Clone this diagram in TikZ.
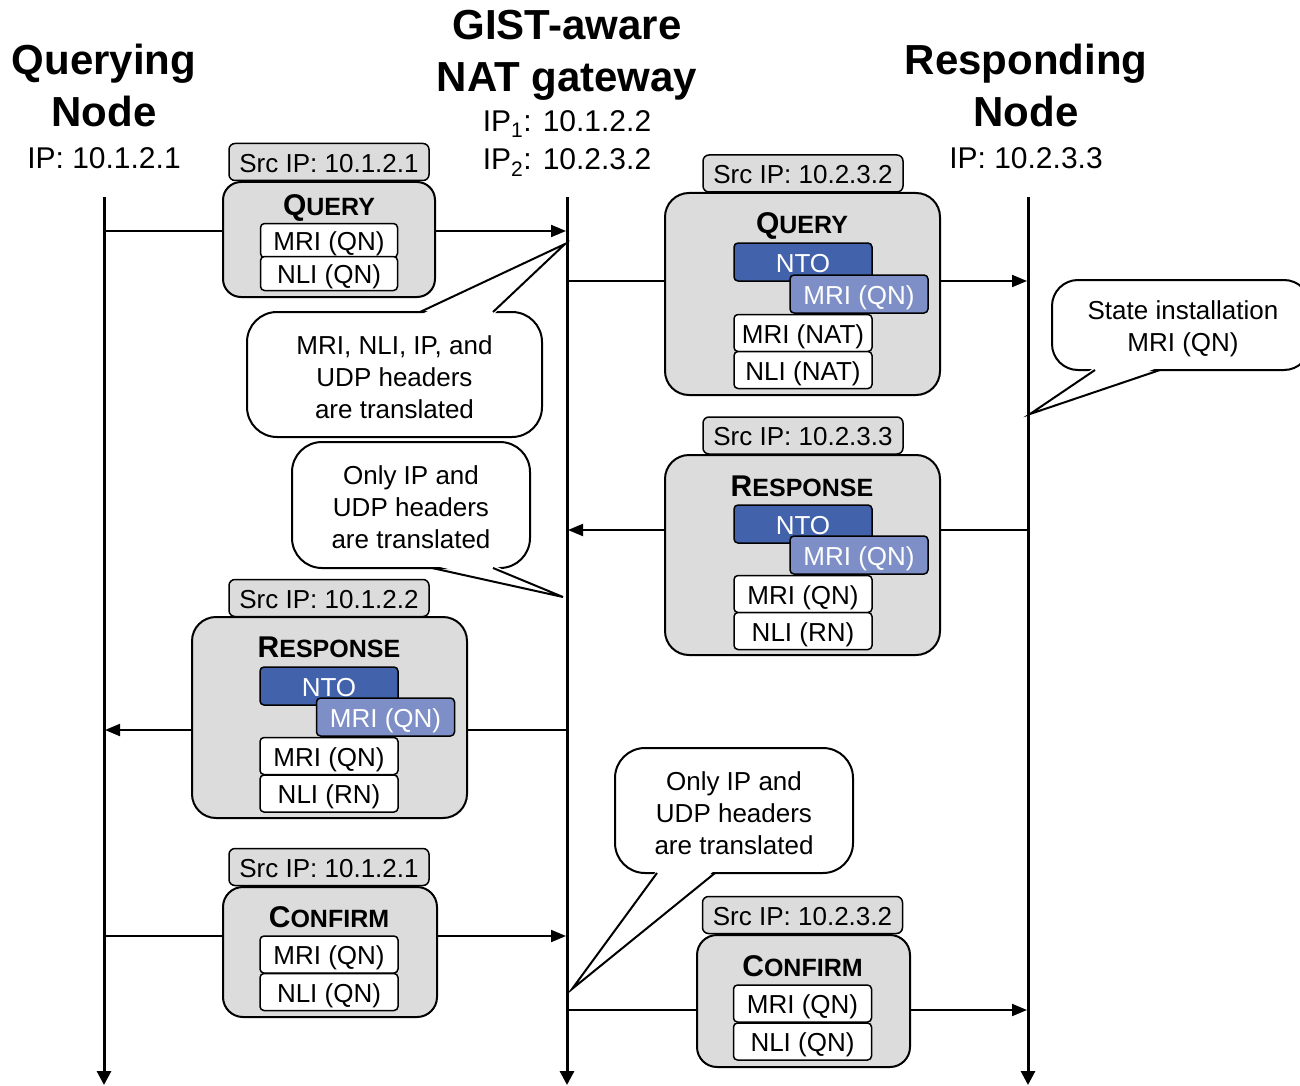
\documentclass[tikz,border=0pt]{standalone}
\usepackage{fontspec}
\setmainfont{Liberation Sans}
\usetikzlibrary{arrows.meta}
\definecolor{boxgray}{HTML}{DCDCDC}
\definecolor{ntoblue}{HTML}{4262AB}
\definecolor{mriblue}{HTML}{7D8FC6}
\newcommand{\msgtitle}[2]{{\bfseries\fontsize{30}{34}\selectfont #1\fontsize{25}{30}\selectfont #2}}
\begin{document}
\begin{tikzpicture}[x=1pt,y=-1pt,
  lifeline/.style={line width=3pt, -{Triangle[length=14pt,width=14pt]}},
  msg/.style={line width=2pt, -{Triangle[length=15pt,width=12pt]}},
  msgbox/.style={draw, line width=2pt, fill=boxgray, inner sep=0pt},
  srcbox/.style={draw, line width=1.5pt, fill=boxgray, rounded corners=6pt, minimum width=200pt, minimum height=37pt, inner sep=0pt, text height=24pt, text depth=4pt, font=\fontsize{26}{30}\selectfont},
  field/.style={draw, line width=1.5pt, rounded corners=4pt, fill=white, minimum width=138pt, minimum height=37pt, inner sep=0pt, text height=24pt, text depth=4pt, font=\fontsize{26}{30}\selectfont},
  smallfield/.style={field, minimum width=137pt, minimum height=34pt},
  nto/.style={field, fill=ntoblue, text=white, minimum height=38pt},
  mriq/.style={field, fill=mriblue, text=white, minimum height=38pt},
  mtitle/.style={anchor=base, inner sep=0pt},
  callout/.style={draw, line width=2pt, fill=white, rounded corners=30pt, inner sep=0pt},
  callouttext/.style={inner sep=0pt, align=center, font=\fontsize{26}{32}\selectfont},
  tailline/.style={line width=2pt, line join=miter},
  headtitle/.style={font=\fontsize{42}{52}\selectfont\bfseries, anchor=base, inner sep=0pt},
  iplabel/.style={font=\fontsize{30}{38}\selectfont, anchor=base, inner sep=0pt},
]
\clip (0,0) rectangle (1300,1086);
\fill[white] (0,0) rectangle (1300,1086);

% headings
\node[headtitle] (qnT1) at (104,75) {Querying};
\node[headtitle] (qnT2) at (104,127) {Node};
\node[iplabel] (qnIP) at (104,168) {IP: 10.1.2.1};
\node[headtitle] (natT1) at (567,40) {GIST-aware};
\node[headtitle] (natT2) at (567,92) {NAT gateway};
\node[iplabel] (natIP1) at (567,132) {IP\textsubscript{1}: 10.1.2.2};
\node[iplabel] (natIP2) at (567,170) {IP\textsubscript{2}: 10.2.3.2};
\node[headtitle] (rnT1) at (1026,75) {Responding};
\node[headtitle] (rnT2) at (1026,127) {Node};
\node[iplabel] (rnIP) at (1026,168) {IP: 10.2.3.3};

% lifelines
\coordinate (qnTop) at (104,197);  \coordinate (qnBot) at (104,1085);
\coordinate (natTop) at (567,197); \coordinate (natBot) at (567,1085);
\coordinate (rnTop) at (1028,197); \coordinate (rnBot) at (1028,1085);
\draw[lifeline] (qnTop) -- (qnBot);
\draw[lifeline] (natTop) -- (natBot);
\draw[lifeline] (rnTop) -- (rnBot);

% message lines
\coordinate (qn1) at (104,231);  \coordinate (nat1) at (566,231);
\coordinate (nat2) at (567,281); \coordinate (rn2) at (1027,281);
\coordinate (rn3) at (1028,530); \coordinate (nat3) at (568,530);
\coordinate (nat4) at (567,730); \coordinate (qn4) at (105,730);
\coordinate (qn5) at (104,936);  \coordinate (nat5) at (566,936);
\coordinate (nat6) at (567,1010); \coordinate (rn6) at (1027,1010);
\draw[msg] (qn1) -- (nat1);
\draw[msg] (nat2) -- (rn2);
\draw[msg] (rn3) -- (nat3);
\draw[msg] (nat4) -- (qn4);
\draw[msg] (qn5) -- (nat5);
\draw[msg] (nat6) -- (rn6);

% Query 1
\node[msgbox, rounded corners=18pt, minimum width=212pt, minimum height=115pt] (q1box) at (329,239.5) {};
\node[srcbox] (q1src) at (329,162) {Src IP: 10.1.2.1};
\node[mtitle] (q1t) at (329,215) {\msgtitle{Q}{UERY}};
\node[smallfield] (q1mri) at (329,240.5) {MRI (QN)};
\node[smallfield] (q1nli) at (329,273.5) {NLI (QN)};

% Query 2
\node[msgbox, rounded corners=24pt, minimum width=275pt, minimum height=202pt] (q2box) at (802.5,294) {};
\node[srcbox] (q2src) at (803,173.5) {Src IP: 10.2.3.2};
\node[mtitle] (q2t) at (802,233) {\msgtitle{Q}{UERY}};
\node[nto] (q2nto) at (803,262) {NTO};
\node[mriq] (q2mq) at (859,294) {MRI (QN)};
\node[field] (q2mri) at (803,333) {MRI (NAT)};
\node[field] (q2nli) at (803,370) {NLI (NAT)};

% Response 1
\node[msgbox, rounded corners=24pt, minimum width=275pt, minimum height=200pt] (r1box) at (802.5,555) {};
\node[srcbox] (r1src) at (803,435.5) {Src IP: 10.2.3.3};
\node[mtitle] (r1t) at (802,496) {\msgtitle{R}{ESPONSE}};
\node[nto] (r1nto) at (803,524) {NTO};
\node[mriq] (r1mq) at (859,555) {MRI (QN)};
\node[field] (r1mri) at (803,594) {MRI (QN)};
\node[field] (r1nli) at (803,631) {NLI (RN)};

% Response 2
\node[msgbox, rounded corners=24pt, minimum width=275pt, minimum height=201pt] (r2box) at (329.5,717.5) {};
\node[srcbox] (r2src) at (329,598) {Src IP: 10.1.2.2};
\node[mtitle] (r2t) at (329,657) {\msgtitle{R}{ESPONSE}};
\node[nto] (r2nto) at (329,686) {NTO};
\node[mriq] (r2mq) at (385.5,717) {MRI (QN)};
\node[field] (r2mri) at (329,756) {MRI (QN)};
\node[field] (r2nli) at (329,793.5) {NLI (RN)};

% Confirm 1
\node[msgbox, rounded corners=20pt, minimum width=214pt, minimum height=130pt] (c1box) at (330,952) {};
\node[srcbox] (c1src) at (329,867) {Src IP: 10.1.2.1};
\node[mtitle] (c1t) at (329,927) {\msgtitle{C}{ONFIRM}};
\node[field] (c1mri) at (329,954.5) {MRI (QN)};
\node[field] (c1nli) at (329,992) {NLI (QN)};

% Confirm 2
\node[msgbox, rounded corners=20pt, minimum width=213pt, minimum height=132pt] (c2box) at (803.5,1001) {};
\node[srcbox] (c2src) at (802.5,915) {Src IP: 10.2.3.2};
\node[mtitle] (c2t) at (802.5,976) {\msgtitle{C}{ONFIRM}};
\node[field] (c2mri) at (802.5,1003.5) {MRI (QN)};
\node[field] (c2nli) at (802.5,1041.5) {NLI (QN)};

% Callout A
\node[callout, minimum width=295pt, minimum height=125pt] (cA) at (394.5,374.5) {};
\node[callouttext] (cAtext) at (394.5,377) {MRI, NLI, IP, and\\UDP headers\\are translated};
\coordinate (tAl) at (420,312); \coordinate (tAt) at (565,244); \coordinate (tAr) at (493,312);
\fill[white] ([yshift=-3pt]tAl) -- (tAt) -- ([yshift=-3pt]tAr) -- cycle;
\draw[tailline] (tAl) -- (tAt) -- (tAr);

% Callout B
\node[callout, minimum width=238pt, minimum height=126pt] (cB) at (411,505) {};
\node[callouttext] (cBtext) at (411,507.5) {Only IP and\\UDP headers\\are translated};
\coordinate (tBl) at (432,568); \coordinate (tBt) at (563,597); \coordinate (tBr) at (493,568);
\fill[white] ([yshift=3pt]tBl) -- (tBt) -- ([yshift=3pt]tBr) -- cycle;
\draw[tailline] (tBl) -- (tBt) -- (tBr);

% Callout C
\node[callout, rounded corners=26pt, minimum width=258pt, minimum height=90pt] (cC) at (1181,325) {};
\node[callouttext] (cCtext) at (1183,329) {State installation\\MRI (QN)};
\coordinate (tCl) at (1095,370); \coordinate (tCt) at (1030,414); \coordinate (tCr) at (1160,370);
\fill[white] ([yshift=3pt]tCl) -- (tCt) -- ([yshift=3pt]tCr) -- cycle;
\draw[tailline] (tCl) -- (tCt) -- (tCr);

% Callout D
\node[callout, minimum width=238pt, minimum height=125pt] (cD) at (734,810.5) {};
\node[callouttext] (cDtext) at (734,813.5) {Only IP and\\UDP headers\\are translated};
\coordinate (tDl) at (657,873); \coordinate (tDt) at (572,989); \coordinate (tDr) at (715,873);
\fill[white] ([yshift=3pt]tDl) -- (tDt) -- ([yshift=3pt]tDr) -- cycle;
\draw[tailline] (tDl) -- (tDt) -- (tDr);
\end{tikzpicture}
\end{document}
